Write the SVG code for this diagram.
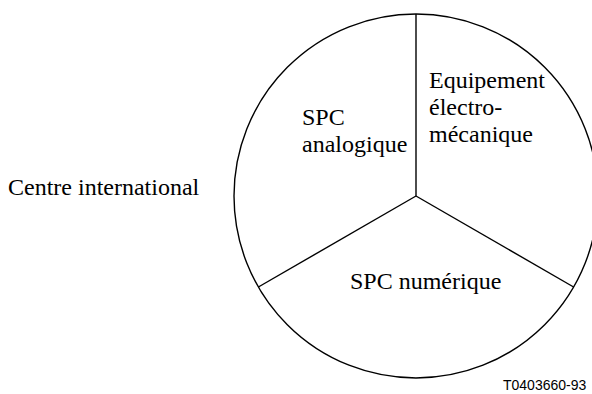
<svg xmlns="http://www.w3.org/2000/svg" width="592" height="394" viewBox="0 0 592 394">
<style>
.t{font-family:"Liberation Serif","Times New Roman",serif;font-size:24px;fill:#000}
.ln{fill:none;stroke:#000;stroke-width:1.4}
.ref{font-family:"Liberation Sans",Arial,sans-serif;font-size:14px;fill:#000}
</style>
<rect width="592" height="394" fill="#fff"/>
<g id="pie">
<circle class="ln" cx="416" cy="196" r="182"/>
</g>
<g id="dividers">
<line class="ln" x1="416" y1="14" x2="416" y2="196"/>
<line class="ln" x1="416" y1="196" x2="258.4" y2="287"/>
<line class="ln" x1="416" y1="196" x2="573.6" y2="287"/>
</g>
<g id="label-centre">
<text class="t" x="8" y="194.5">Centre international</text>
</g>
<g id="sector-analogique">
<text class="t" x="302" y="125">SPC</text>
<text class="t" x="302" y="152">analogique</text>
</g>
<g id="sector-electromecanique">
<text class="t" x="429" y="88">Equipement</text>
<text class="t" x="429" y="115">électro-</text>
<text class="t" x="429" y="142">mécanique</text>
</g>
<g id="sector-numerique">
<text class="t" x="350" y="289">SPC numérique</text>
</g>
<text class="ref" x="503" y="390">T0403660-93</text>
</svg>
